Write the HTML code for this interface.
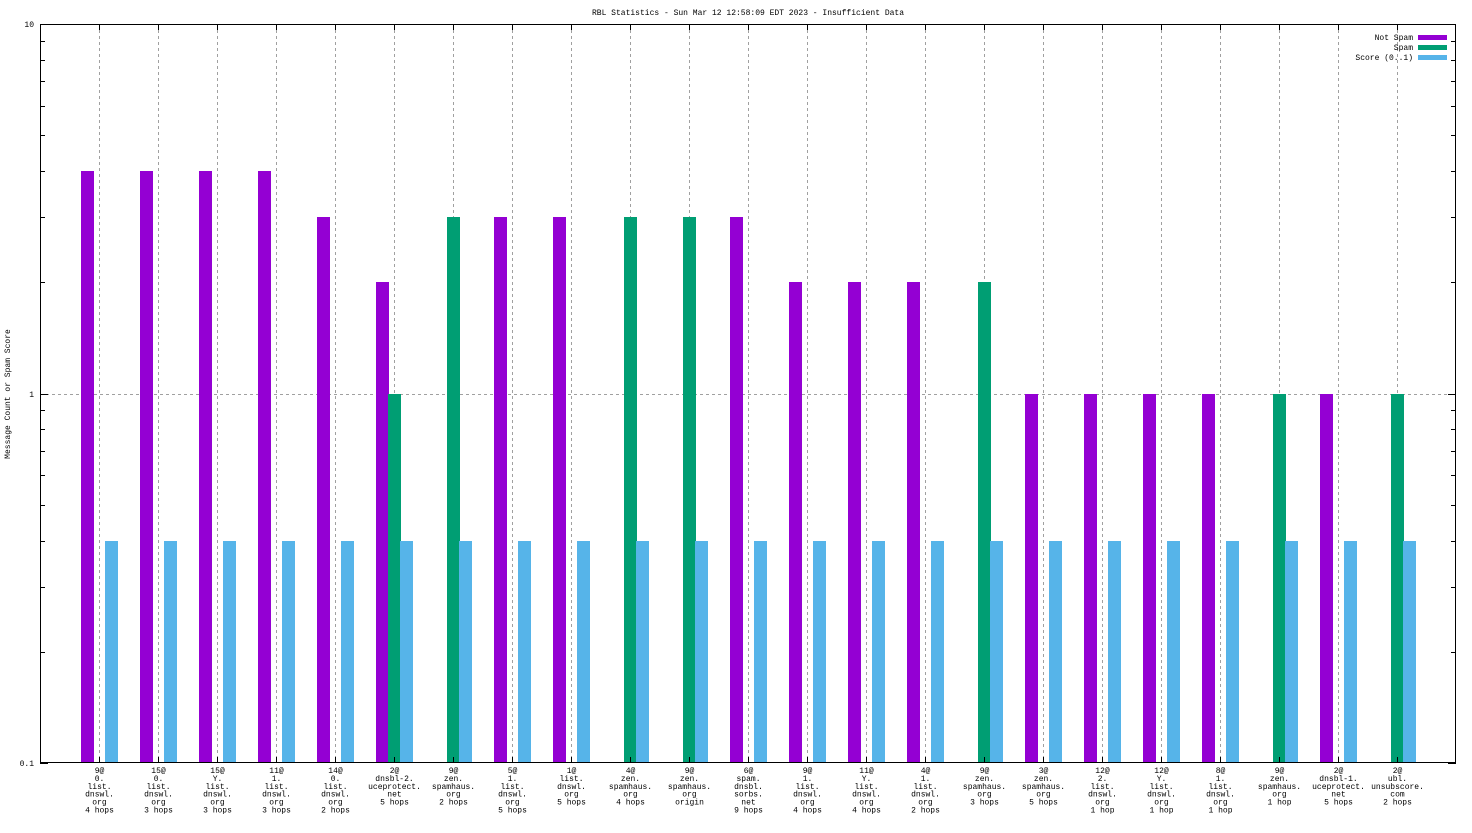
<!DOCTYPE html>
<html><head><meta charset="utf-8"><style>
html,body{margin:0;padding:0;background:#fff;}
svg text{font-family:"Liberation Mono","DejaVu Sans Mono",monospace;font-size:8px;fill:#000;}
</style></head><body>
<svg id="chart" width="1472" height="828" xmlns="http://www.w3.org/2000/svg">
<g id="grid"></g>
<g id="bars"></g>
<g id="axes"></g>
<g id="labels"></g>
<text x="748" y="15" text-anchor="middle">RBL Statistics - Sun Mar 12 12:58:09 EDT 2023 - Insufficient Data</text>
<text x="10" y="394" text-anchor="middle" transform="rotate(-90 10 394)">Message Count or Spam Score</text>
<g>
<text x="1413" y="40" text-anchor="end">Not Spam</text>
<rect x="1418" y="35" width="29" height="5" fill="#9400d3"/>
<text x="1413" y="50" text-anchor="end">Spam</text>
<rect x="1418" y="45" width="29" height="5" fill="#009e73"/>
<text x="1413" y="60" text-anchor="end">Score (0..1)</text>
<rect x="1418" y="55" width="29" height="5" fill="#56b4e9"/>
</g>
</svg>
<script>
const categories = [
"9@|0.|list.|dnswl.|org|4 hops","15@|0.|list.|dnswl.|org|3 hops","15@|Y.|list.|dnswl.|org|3 hops","11@|1.|list.|dnswl.|org|3 hops","14@|0.|list.|dnswl.|org|2 hops",
"2@|dnsbl-2.|uceprotect.|net|5 hops","9@|zen.|spamhaus.|org|2 hops","5@|1.|list.|dnswl.|org|5 hops","1@|list.|dnswl.|org|5 hops","4@|zen.|spamhaus.|org|4 hops",
"9@|zen.|spamhaus.|org|origin","6@|spam.|dnsbl.|sorbs.|net|9 hops","9@|1.|list.|dnswl.|org|4 hops","11@|Y.|list.|dnswl.|org|4 hops","4@|1.|list.|dnswl.|org|2 hops",
"9@|zen.|spamhaus.|org|3 hops","3@|zen.|spamhaus.|org|5 hops","12@|2.|list.|dnswl.|org|1 hop","12@|Y.|list.|dnswl.|org|1 hop","8@|1.|list.|dnswl.|org|1 hop",
"9@|zen.|spamhaus.|org|1 hop","2@|dnsbl-1.|uceprotect.|net|5 hops","2@|ubl.|unsubscore.|com|2 hops"];
const notSpam = [4,4,4,4,3,2,0,3,3,0,0,3,2,2,2,0,1,1,1,1,0,1,0];
const spam    = [0,0,0,0,0,1,3,0,0,3,3,0,0,0,0,2,0,0,0,0,1,0,1];
const score   = [0.4,0.4,0.4,0.4,0.4,0.4,0.4,0.4,0.4,0.4,0.4,0.4,0.4,0.4,0.4,0.4,0.4,0.4,0.4,0.4,0.4,0.4,0.4];
const yTicks = [0.1,1,10];
const yTickLabels = ["0.1","1","10"];

const NS="http://www.w3.org/2000/svg";
const L=40,R=1456,T=24,B=763;
const step=(R-L)/(categories.length+1);
function xs(i){return L+step*(i+1);}
function ys(v){return B-(Math.log10(v)+1)/2*(B-T);}
function mk(tag,attrs,parent){const e=document.createElementNS(NS,tag);for(const k in attrs)e.setAttribute(k,attrs[k]);parent.appendChild(e);return e;}
const grid=document.getElementById('grid'),bars=document.getElementById('bars'),axes=document.getElementById('axes'),labels=document.getElementById('labels');

categories.forEach((c,i)=>{
  const x=Math.round(xs(i))+0.5;
  const g=mk('line',{x1:x,x2:x,y1:T,y2:B,stroke:'#a0a0a0','stroke-dasharray':'3,3','stroke-width':1},grid);
  
  
  const tk=mk('line',{x1:x,x2:x,y1:T,y2:T+6,stroke:'#000'},axes);
  
  
  const tk2=mk('line',{x1:x,x2:x,y1:B,y2:B-6,stroke:'#000'},axes);
  
  
  const t=mk('text',{x:x,y:773,'text-anchor':'middle'},labels);
  
  
  c.split('|').forEach((ln,j)=>{const s=mk('tspan',{x:x,y:773+j*7.9},t);s.textContent=ln;});
});
const g1=mk('line',{x1:L,x2:R,y1:Math.round(ys(1))+0.5,y2:Math.round(ys(1))+0.5,stroke:'#a0a0a0','stroke-dasharray':'3,3'},grid);



function drawSeries(arr,off,color,name){
  arr.forEach((v,i)=>{
    if(!(v>0))return;
    const x=Math.round(xs(i))+off, y=Math.round(ys(v));
    const r=mk('rect',{x:x,y:y,width:13,height:B-y,fill:color},bars);
    
    
  });
}
drawSeries(notSpam,-18,'#9400d3','not-spam');
drawSeries(spam,-6,'#009e73','spam');
drawSeries(score,6,'#56b4e9','score');

// axes frame
const fr=mk('rect',{x:L+0.5,y:T+0.5,width:R-L-1,height:B-T-1,fill:'none',stroke:'#000'},axes);


yTicks.forEach((v,k)=>{
  const y=Math.round(ys(v));
  const t=mk('text',{x:L-6,y:y+3,'text-anchor':'end'},axes);
  
  
  t.textContent=yTickLabels[k];
});
for(let d=0.1;d<5;d*=10){
  for(let m=1;m<10;m++){
    const y=Math.round(ys(d*m))+0.5;
    const len=m===1?8:5;
    const a=mk('line',{x1:L,x2:L+len,y1:y,y2:y,stroke:'#000'},axes);
    
    
    const b=mk('line',{x1:R,x2:R-len,y1:y,y2:y,stroke:'#000'},axes);
    
    
  }
}
</script>
</body></html>
